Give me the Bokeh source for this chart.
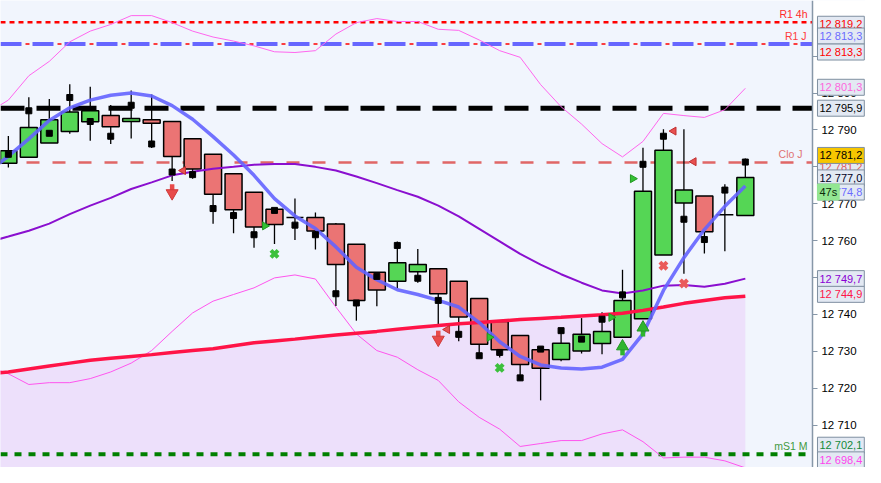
from math import pi

from bokeh.plotting import figure
from bokeh.models import Range1d, FixedTicker, Label, LinearAxis
from bokeh.embed import file_html
from bokeh.resources import INLINE

# --- candles (index 0 = first bar on screen) ---
opens = [12781.0, 12782.6, 12786.5, 12789.6, 12792.2, 12793.9, 12792.3, 12792.8, 12792.3, 12787.6,
         12783.4, 12778.1, 12773.1, 12768.5, 12766.3, 12766.3, 12764.5, 12759.0, 12751.4, 12749.0,
         12751.6, 12752.4, 12749.0, 12744.3, 12738.1, 12734.3, 12730.4, 12727.8, 12730.1, 12732.1,
         12733.8, 12738.8, 12756.1, 12770.2, 12772.1, 12767.0, 12766.8]
closes = [12784.4, 12790.7, 12792.8, 12794.9, 12795.2, 12790.9, 12793.1, 12791.8, 12782.8, 12779.4,
          12772.6, 12768.4, 12763.7, 12764.4, 12766.3, 12762.6, 12753.5, 12743.8, 12746.6, 12754.0,
          12753.5, 12745.6, 12739.3, 12731.9, 12730.4, 12726.4, 12725.4, 12732.2, 12734.6, 12735.4,
          12743.8, 12773.4, 12784.5, 12773.7, 12762.4, 12767.0, 12777.1]
highs = [12788.4, 12798.9, 12798.4, 12802.4, 12801.7, 12796.8, 12800.7, 12799.6, 12792.3, 12787.6,
         12783.4, 12778.1, 12773.1, 12768.5, 12771.4, 12767.6, 12764.8, 12759.0, 12751.4, 12759.8,
         12757.7, 12752.4, 12749.0, 12744.3, 12738.1, 12734.3, 12730.6, 12735.6, 12739.0, 12740.6,
         12752.1, 12785.2, 12790.2, 12790.2, 12772.1, 12775.3, 12782.3]
lows = [12779.8, 12782.6, 12786.5, 12789.0, 12787.1, 12786.2, 12787.7, 12785.1, 12776.2, 12776.8,
        12764.6, 12762.0, 12758.1, 12759.1, 12760.2, 12757.6, 12742.3, 12738.3, 12742.2, 12747.1,
        12748.6, 12736.7, 12732.7, 12728.4, 12728.3, 12722.1, 12716.7, 12727.3, 12729.4, 12729.2,
        12733.8, 12738.8, 12756.1, 12751.0, 12756.5, 12757.1, 12766.8]
# black squares
marks = [12783.4, 12795.2, 12789.1, 12798.8, 12792.3, 12788.3, 12796.7, 12786.2, 12778.6, 12777.9,
         12768.7, 12766.8, 12761.6, 12768.2, 12764.2, 12761.6, 12745.6, 12743.1, 12750.3, 12758.7,
         12749.8, 12743.8, 12734.6, 12728.8, 12729.7, 12722.8, 12730.6, 12735.6, 12733.3, 12738.7,
         12745.3, 12780.7, 12788.3, 12765.8, 12760.3, 12773.7, 12781.3]

# --- indicator lines, one value per bar starting one bar before the screen ---
hma = [12778.5, 12782.9, 12787.6, 12792.6, 12796.0, 12798.1, 12799.4, 12800.0, 12799.2, 12796.6,
       12792.9, 12788.2, 12783.2, 12777.7, 12771.4, 12766.7, 12763.3, 12758.3, 12752.8, 12749.4,
       12746.7, 12745.4, 12743.8, 12742.0, 12737.8, 12732.6, 12728.6, 12726.3, 12725.5, 12725.2,
       12725.7, 12727.8, 12734.7, 12746.5, 12755.4, 12763.0, 12769.3, 12774.8]
mid = [12759.6, 12761.1, 12762.7, 12764.6, 12767.2, 12769.5, 12771.6, 12774.0, 12775.8, 12777.7,
       12778.7, 12779.5, 12780.0, 12780.6, 12780.8, 12780.8, 12780.0, 12779.0, 12777.4, 12775.6,
       12773.7, 12771.9, 12769.5, 12766.6, 12763.2, 12759.8, 12756.4, 12753.5, 12750.9, 12748.6,
       12746.5, 12745.7, 12746.5, 12747.8, 12748.0, 12747.5, 12748.3, 12749.7]
slow = [12723.8, 12724.4, 12725.2, 12726.0, 12726.8, 12727.6, 12728.1, 12728.6, 12729.1, 12729.7,
        12730.2, 12730.7, 12731.5, 12732.3, 12732.8, 12733.3, 12733.9, 12734.4, 12734.9, 12735.4,
        12736.0, 12736.5, 12737.0, 12737.5, 12737.8, 12738.2, 12738.6, 12738.9, 12739.2, 12739.6,
        12739.9, 12740.3, 12741.1, 12742.0, 12743.0, 12743.8, 12744.5, 12744.9]
band_up = [12794.7, 12798.1, 12804.7, 12808.6, 12813.9, 12816.8, 12818.6, 12821.0, 12821.0, 12819.1,
           12816.8, 12815.2, 12814.1, 12812.8, 12811.2, 12811.0, 12811.5, 12816.0, 12819.1, 12820.2,
           12819.4, 12819.4, 12817.3, 12817.0, 12814.4, 12811.5, 12809.7, 12802.3, 12796.3, 12791.6,
           12786.3, 12782.7, 12786.9, 12794.5, 12793.9, 12793.4, 12795.5, 12801.3]
band_dn = [12726.0, 12723.9, 12721.0, 12721.5, 12721.5, 12722.6, 12724.4, 12726.8, 12730.2, 12735.4,
           12740.4, 12743.6, 12745.4, 12747.2, 12749.9, 12750.7, 12749.6, 12742.0, 12734.7, 12730.2,
           12728.4, 12725.0, 12722.1, 12716.3, 12712.1, 12708.9, 12704.2, 12705.0, 12705.8, 12705.8,
           12707.6, 12708.7, 12705.5, 12701.1, 12701.3, 12701.3, 12700.3, 12698.4]

# --- signals (bar position, price) ---
arrow_dn_x = [8, 21]
arrow_dn_y = [12773.4, 12733.7]
arrow_up_x = [30, 31]
arrow_up_y = [12730.8, 12735.9]
tri_left_x = [8.54, 21.44, 32.5, 33.48]
tri_left_y = [12779.0, 12735.9, 12789.7, 12781.4]
tri_right_x = [12.53, 23.5, 29.45, 30.5]
tri_right_y = [12764.0, 12733.8, 12739.2, 12776.8]
cross_g_x = [13, 24]
cross_g_y = [12756.4, 12725.5]
cross_r_x = [32, 33]
cross_r_y = [12753.2, 12748.4]

# --- horizontal levels ---
level_vals = [12819.2, 12813.3, 12813.3, 12795.9, 12781.2, 12702.1]
level_names = ["R1 4h", "", "R1 J", "", "Clo J", "mS1 M"]

# --- right hand price tags ---
tag_vals = [12819.2, 12813.3, 12813.3, 12801.3, 12795.9, 12781.2, 12781.2, 12777.0, 12774.8,
            12749.7, 12744.9, 12702.1, 12698.4]
ticks = [12710, 12720, 12730, 12740, 12750, 12760, 12770, 12780, 12790, 12800, 12810]

W, H = 865, 467
Y0, Y1 = 12698.5, 12825.1
X0, X1 = -0.384, 41.87      # whole canvas, price scale included
AXIS_X = 39.28              # where the price scale sits
py = (Y1 - Y0) / H          # price per pixel
pxu = (X1 - X0) / W         # bars per pixel


def fmt(v):
    return f"{v:,.1f}".replace(",", " ").replace(".", ",")


p = figure(width=W, height=H, x_range=Range1d(X0, X1), y_range=Range1d(Y0, Y1),
           x_axis_type=None, y_axis_type=None, output_backend="svg",
           toolbar_location=None, min_border=0)
p.grid.visible = False
p.outline_line_color = None
p.background_fill_color = "#f1f5fd"
p.border_fill_color = "#ffffff"

# white strip behind the price scale
p.quad(left=[AXIS_X], right=[X1 + 1], bottom=[Y0 - 10], top=[Y1 + 10],
       fill_color="#ffffff", line_color=None, level="underlay")

ax = LinearAxis(fixed_location=AXIS_X, ticker=FixedTicker(ticks=ticks))
ax.major_label_overrides = {t: f"{t:,}".replace(",", " ") for t in ticks}
ax.major_label_text_font = "Liberation Sans"
ax.major_label_text_font_size = "11.5px"
ax.major_label_text_color = "#000000"
ax.axis_line_color = "#8797a8"
ax.axis_line_width = 1.5
ax.major_tick_line_color = "#8797a8"
ax.major_tick_in = 0
ax.major_tick_out = 5
ax.minor_tick_line_color = None
ax.major_label_standoff = 4
p.add_layout(ax, "right")

bars = list(range(len(opens)))
lbars = list(range(-1, len(opens)))

# lavender zone under the slow average
p.varea(x=lbars, y1=[Y0 - 10] * len(lbars), y2=slow, fill_color="#ede0fb", level="underlay")

# horizontal levels, stopping at the price scale
level_styles = [("#ff0000", 2.5, "5 4", 0), ("#6666ff", 4, "21 11", 0), ("#ff0000", 1.5, "4 28", 7),
                ("#000000", 5, "24 12", 0), ("#e06666", 2.5, "13 13", 0), ("#008000", 4, "7 7", 0)]
for v, (c, w, d, off) in zip(level_vals, level_styles):
    p.segment(x0=[X0], y0=[v], x1=[AXIS_X], y1=[v], line_color=c, line_width=w,
              line_dash=d, line_dash_offset=off)
name_colors = {"R1 4h": "#ff2a2a", "R1 J": "#ff3b3b", "Clo J": "#e07373", "mS1 M": "#3f9a3f"}
name_gap = {"R1 4h": 5, "R1 J": 6, "Clo J": 10, "mS1 M": 5}
for v, n in zip(level_vals, level_names):
    if n:
        p.add_layout(Label(x=AXIS_X - name_gap[n] * pxu, y=v, y_offset=2, text=n,
                           text_align="right", text_baseline="bottom",
                           text_font="Liberation Sans", text_font_size="10.5px",
                           text_color=name_colors[n]))

# bollinger bands
p.line(lbars, band_up, line_color="#ff66ee", line_width=1)
p.line(lbars, band_dn, line_color="#ff55ee", line_width=1)

# candles
tops = [max(o, c) for o, c in zip(opens, closes)]
bots = [min(o, c) for o, c in zip(opens, closes)]
fills = ["#55d655" if c >= o else "#eb7474" for o, c in zip(opens, closes)]
p.segment(bars, lows, bars, highs, line_color="black", line_width=1.3)
p.vbar(x=bars, width=0.83, top=tops, bottom=bots, fill_color=fills,
       line_color="black", line_width=1.5)

# averages
p.line(lbars, slow, line_color="#ff1447", line_width=3.5)
p.line(lbars, mid, line_color="#8a0fcf", line_width=2)
p.line(lbars, hma, line_color="#6464ff", line_width=3.5, line_alpha=0.9)

p.scatter(bars, marks, marker="square", size=6, color="black")

# signals
p.segment(arrow_dn_x, [v + 1 * py for v in arrow_dn_y], arrow_dn_x,
          [v + 7 * py for v in arrow_dn_y], line_color="#e84a4a", line_width=4.5)
p.scatter(arrow_dn_x, [v - 2 * py for v in arrow_dn_y], marker="inverted_triangle", size=12,
          fill_color="#e84a4a", line_color="#d03a3a")
p.segment(arrow_up_x, [v - 1 * py for v in arrow_up_y], arrow_up_x,
          [v - 7 * py for v in arrow_up_y], line_color="#2fb52f", line_width=4.5)
p.scatter(arrow_up_x, [v + 2 * py for v in arrow_up_y], marker="triangle", size=12,
          fill_color="#2fb52f", line_color="#229922")
p.scatter(tri_left_x, tri_left_y, marker="triangle", angle=pi / 2, size=8,
          fill_color="#e85050", line_color="#c03030")
p.scatter(tri_right_x, tri_right_y, marker="triangle", angle=-pi / 2, size=8,
          fill_color="#33c033", line_color="#229922")
p.scatter(cross_g_x, cross_g_y, marker="x", size=10, line_color="#3cc03c", line_width=4)
p.scatter(cross_r_x, cross_r_y, marker="x", size=10, line_color="#ea5a5a", line_width=4)

# price tags on the scale
tag_colors = ["#ff0000", "#6b6bff", "#ff0000", "#ff66dd", "#000000", "#e05a5a", "#000000",
              "#000022", "#6b6bff", "#8a00d4", "#ff1447", "#138a3a", "#ff44ee"]
tag_bgs = ["#e3e9f3"] * 6 + ["#f7c600"] + ["#e3e9f3"] * 6
tag_offsets = [-2, 8, -8, 1, 0, -5, 7, 0, -6, 0, 2, 9, 8]
tag_x = AXIS_X + 5 * pxu
for v, c, bg, off in zip(tag_vals, tag_colors, tag_bgs, tag_offsets):
    p.add_layout(Label(x=tag_x, y=v, y_offset=off, text=fmt(v), text_color=c,
                       text_font="Liberation Sans", text_font_size="11px",
                       text_baseline="middle", background_fill_color=bg,
                       border_line_color="#7f8fa0", padding=2))
p.add_layout(Label(x=tag_x, y=tag_vals[8], y_offset=-6, text="47s",
                   text_color="#0a2a0a", text_font="Liberation Sans", text_font_size="11px",
                   text_baseline="middle", background_fill_color="#93e693",
                   border_line_color="#93e693", padding=2))

open("out.html", "w").write(file_html(p, INLINE))
